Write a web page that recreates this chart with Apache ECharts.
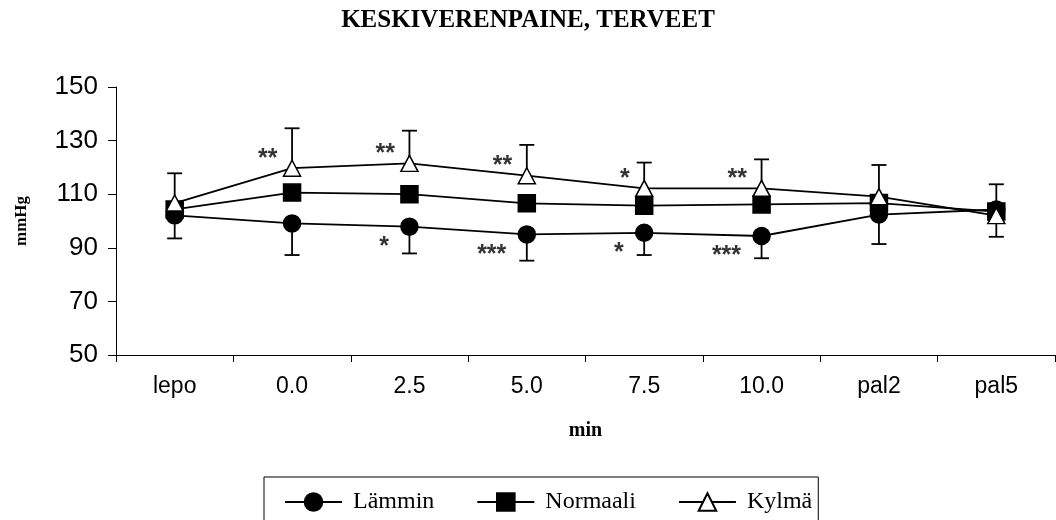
<!DOCTYPE html>
<html>
<head>
<meta charset="utf-8">
<title>Keskiverenpaine, terveet</title>
<script src="https://cdn.jsdelivr.net/npm/echarts@6/dist/echarts.min.js"></script>
<style>
  html, body { margin: 0; padding: 0; background: #fff; }
  #chart { width: 1056px; height: 520px; }
</style>
</head>
<body>
<div id="chart"></div>
<script>
// Mean arterial pressure (mmHg) over the measurement phases
const categories = ['lepo', '0.0', '2.5', '5.0', '7.5', '10.0', 'pal2', 'pal5'];
const yTicks = [50, 70, 90, 110, 130, 150];

const lammin   = [102.1, 99.1, 97.9, 95.0, 95.6, 94.4, 102.4, 104.3];
const lamminSD = [8.6, 11.8, 10.0, 9.8, 8.3, 8.3, 11.0, 10.2];

const normaali = [104.3, 110.6, 110.0, 106.6, 105.7, 106.2, 106.7, 103.5];

const kylma   = [106.7, 119.7, 121.5, 116.9, 112.2, 112.2, 109.1, 102.0];
const kylmaSD = [11.1, 14.9, 12.2, 11.5, 9.6, 10.8, 11.8, 11.7];

// significance markers
const kylmaSig  = ['', '**', '**', '**', '*', '**', '', ''];
const lamminSig = ['', '', '*', '***', '*', '***', '', ''];

const BLACK = '#000';

// one-sided SD whiskers with a cap at the far end (dir: +1 up, -1 down)
function errorBars(name, means, sds, dir) {
  return {
    type: 'custom',
    name: name,
    z: 1,
    silent: true,
    encode: { x: 0, y: [1, 2] },
    data: means.map((m, i) => [i, m, m + dir * sds[i]]),
    renderItem(params, api) {
      const p0 = api.coord([api.value(0), api.value(1)]);
      const p1 = api.coord([api.value(0), api.value(2)]);
      const half = 7.5;
      const st = { stroke: BLACK, lineWidth: 1.8 };
      return {
        type: 'group',
        children: [
          { type: 'line', shape: { x1: p0[0], y1: p0[1], x2: p1[0], y2: p1[1] }, style: st },
          { type: 'line', shape: { x1: p1[0] - half, y1: p1[1], x2: p1[0] + half, y2: p1[1] }, style: st }
        ]
      };
    }
  };
}

function sigLabels(name, means, sig, pos) {
  return {
    type: 'scatter',
    name: name,
    z: 6,
    silent: true,
    symbol: 'circle',
    symbolSize: 1,
    itemStyle: { color: 'rgba(0,0,0,0)' },
    data: means.map((m, i) => [i, m, sig[i]]),
    label: {
      show: true,
      position: pos,
      align: 'right',
      verticalAlign: 'middle',
      formatter: p => p.data[2],
      fontFamily: 'Liberation Sans',
      fontWeight: 'bold',
      fontSize: 25,
      color: BLACK
    }
  };
}

function lineSeries(name, values, symbol, size, fill) {
  return {
    type: 'line',
    name: name,
    data: values,
    symbol: symbol,
    symbolSize: size,
    showAllSymbol: true,
    z: 3,
    lineStyle: { color: BLACK, width: 1.8 },
    itemStyle: { color: fill, borderColor: BLACK, borderWidth: 1.5 },
    emphasis: { disabled: true }
  };
}

const chart = echarts.init(document.getElementById('chart'), null, { renderer: 'canvas' });

chart.setOption({
  animation: false,
  backgroundColor: '#fff',
  title: {
    text: 'KESKIVERENPAINE, TERVEET',
    left: 'center',
    top: 3,
    textStyle: { fontFamily: 'Liberation Serif', fontWeight: 'bold', fontSize: 25, color: BLACK }
  },
  grid: { left: 116, right: 1, top: 87, bottom: 165 },
  legend: {
    data: ['Lämmin', 'Normaali', 'Kylmä'],
    left: 264,
    top: 477,
    padding: [13, 6, 30, 20],
    itemWidth: 57,
    itemHeight: 22,
    itemGap: 42,
    borderColor: BLACK,
    borderWidth: 1,
    textStyle: { fontFamily: 'Liberation Serif', fontSize: 24, color: BLACK, padding: [0, 0, 0, 6] }
  },
  xAxis: {
    type: 'category',
    data: categories,
    boundaryGap: true,
    name: 'min',
    nameLocation: 'middle',
    nameGap: 66,
    nameTextStyle: { fontFamily: 'Liberation Serif', fontWeight: 'bold', fontSize: 20, color: BLACK },
    axisLine: { lineStyle: { color: BLACK, width: 1 } },
    axisTick: { show: true, length: 7, lineStyle: { color: BLACK } },
    axisLabel: { fontFamily: 'Liberation Sans', fontSize: 23, color: BLACK, margin: 20 },
    splitLine: { show: false }
  },
  yAxis: {
    type: 'value',
    min: yTicks[0],
    max: yTicks[yTicks.length - 1],
    interval: yTicks[1] - yTicks[0],
    name: 'mmHg',
    nameLocation: 'middle',
    nameGap: 86,
    nameRotate: 90,
    nameTextStyle: { fontFamily: 'Liberation Serif', fontWeight: 'bold', fontSize: 17, color: BLACK },
    axisLine: { show: true, lineStyle: { color: BLACK, width: 1 } },
    axisTick: { show: true, length: 8, lineStyle: { color: BLACK } },
    axisLabel: { fontFamily: 'Liberation Sans', fontSize: 26, color: BLACK, margin: 18 },
    splitLine: { show: false }
  },
  series: [
    errorBars('Lämmin SD', lammin, lamminSD, -1),
    errorBars('Kylmä SD', kylma, kylmaSD, 1),
    lineSeries('Lämmin', lammin, 'circle', 17, BLACK),
    lineSeries('Normaali', normaali, 'rect', 17, BLACK),
    lineSeries('Kylmä', kylma, 'triangle', [17, 16], '#fff'),
    sigLabels('Kylmä sig', kylma, kylmaSig, [-14, -9]),
    sigLabels('Lämmin sig', lammin, lamminSig, [-20, 21])
  ]
});
</script>
</body>
</html>
